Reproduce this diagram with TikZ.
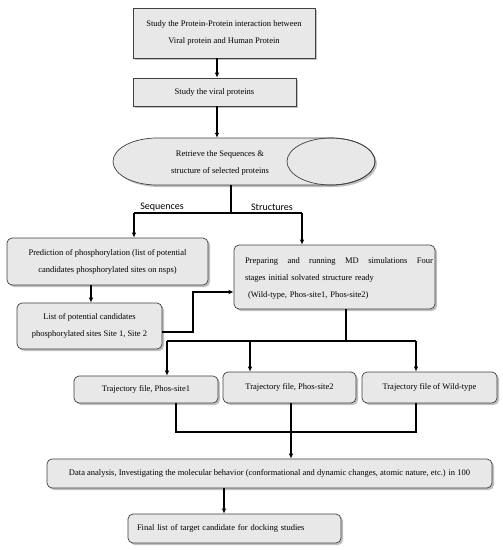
\documentclass[tikz,border=0pt]{standalone}
\usepackage{fontspec}
\setmainfont{Liberation Serif}
\newfontfamily\labfont{Carlito}
\usetikzlibrary{shadows,arrows.meta,calc}
\begin{document}
\begin{tikzpicture}[x=1pt,y=-1pt,
  shad/.style={drop shadow={shadow xshift=2pt,shadow yshift=-2pt,fill=black!45,opacity=0.55}},
  box/.style={draw=black!75, fill=black!9, line width=0.7pt, shad, inner sep=0pt,
    font=\fontsize{8.5}{17}\selectfont, align=center},
  rbox/.style={box, rounded corners=5pt},
  txt/.style={inner sep=0pt, font=\fontsize{8.5}{17}\selectfont},
  arr/.style={line width=1.3pt, -{Latex[length=5pt,width=4.5pt]}},
  ln/.style={line width=1.3pt, line join=miter},
  lbl/.style={font=\labfont\fontsize{10}{12}\selectfont, inner sep=0pt}]
\useasboundingbox (0,0) rectangle (503,550);

% boxes
\node[box, minimum width=182pt, minimum height=50pt] (b1) at (224,33)
  {Study the Protein-Protein interaction between\\Viral protein and Human Protein};
\node[box, minimum width=163pt, minimum height=28pt] (b2) at (214.5,92)
  {Study the viral proteins};

% cylinder-like shape
\path[draw=black!75, fill=black!9, line width=0.7pt, shad]
  (157,138) -- (331,138) arc[start angle=-90, end angle=90, x radius=44, y radius=23.5]
  -- (157,185) arc[start angle=90, end angle=270, x radius=44, y radius=23.5] -- cycle;
\draw[draw=black!75, line width=0.7pt] (331,161.5) ellipse[x radius=44, y radius=23.5];
\node[minimum width=262pt, minimum height=47pt, inner sep=0pt] (cy) at (244,161.5) {};
\node[txt, align=center] (cyt) at (220,163) {Retrieve the Sequences \&\\structure of selected proteins};

\node[lbl] (seq) at (162,207) {Sequences};
\node[lbl] (str) at (272,207) {Structures};

\node[rbox, minimum width=201pt, minimum height=47pt] (pA) at (107.5,261.5)
  {Prediction of phosphorylation (list of potential\\candidates phosphorylated sites on nsps)};
\node[rbox, minimum width=201pt, minimum height=64pt] (pB) at (334.5,277) {};
\node[txt, text width=188pt, align=left] (pBt) at (339,278)
  {\hbox to 188pt{Preparing\hfill and\hfill running\hfill MD\hfill simulations\hfill Four}\\
   stages initial solvated structure ready\\
   \hspace*{3pt}(Wild-type, Phos-site1, Phos-site2)};
\node[rbox, minimum width=145pt, minimum height=46pt] (pC) at (89.5,326)
  {List of potential candidates\\phosphorylated sites Site 1, Site 2};

\node[rbox, minimum width=144pt, minimum height=27pt] (pD) at (146,389.5) {Trajectory file, Phos-site1};
\node[rbox, minimum width=133pt, minimum height=31pt] (pE) at (289.5,387.5) {Trajectory file, Phos-site2};
\node[rbox, minimum width=135pt, minimum height=31pt] (pF) at (429.5,387.5) {Trajectory file of Wild-type};

\node[rbox, minimum width=445pt, minimum height=29pt] (pG) at (269.5,473.5)
  {Data analysis, Investigating the molecular behavior (conformational and dynamic changes, atomic nature, etc.) in 100};
\node[rbox, minimum width=213pt, minimum height=29pt, text width=195pt, align=left] (pH) at (234.5,528.5)
  {Final list of target candidate for docking studies};

% connectors
\coordinate (x1) at (217,0);
\draw[arr] (b1.south -| x1) -- (b2.north -| x1);
\draw[arr] (b2.south -| x1) -- (cy.north -| x1);

\coordinate (j1) at (231,213);
\coordinate (j1l) at (134,213);
\coordinate (j1r) at (302,213);
\draw[ln] (cy.south -| j1) -- (j1);
\draw[ln] (j1l) -- (j1r);
\draw[arr] (j1l) -- (j1l |- pA.north);
\draw[arr] (j1r) -- (j1r |- pB.north);

\coordinate (xa) at (91,0);
\draw[arr] (pA.south -| xa) -- (pC.north -| xa);

\coordinate (k1) at (193,332);
\coordinate (k2) at (193,292);
\draw[arr, line join=miter] (k1 -| pC.east) -- (k1) -- (k2) -- (k2 -| pB.west);

\coordinate (m) at (346,341);
\coordinate (ml) at (167,341);
\coordinate (mm) at (250,341);
\coordinate (mr) at (416,341);
\draw[ln] (pB.south -| m) -- (m);
\draw[ln] (ml) -- (mr);
\draw[arr] (ml) -- (ml |- pD.north);
\draw[arr] (mm) -- (mm |- pE.north);
\draw[arr] (mr) -- (mr |- pF.north);

\coordinate (n1) at (176,432);
\coordinate (n2) at (291,432);
\coordinate (n3) at (416,432);
\draw[ln] (pD.south -| n1) -- (n1) -- (n3) -- (pF.south -| n3);
\draw[ln] (pE.south -| n2) -- (n2);
\draw[arr] (n2) -- (n2 |- pG.north);

\coordinate (o) at (224,0);
\draw[arr] (pG.south -| o) -- (pH.north -| o);
\end{tikzpicture}
\end{document}
